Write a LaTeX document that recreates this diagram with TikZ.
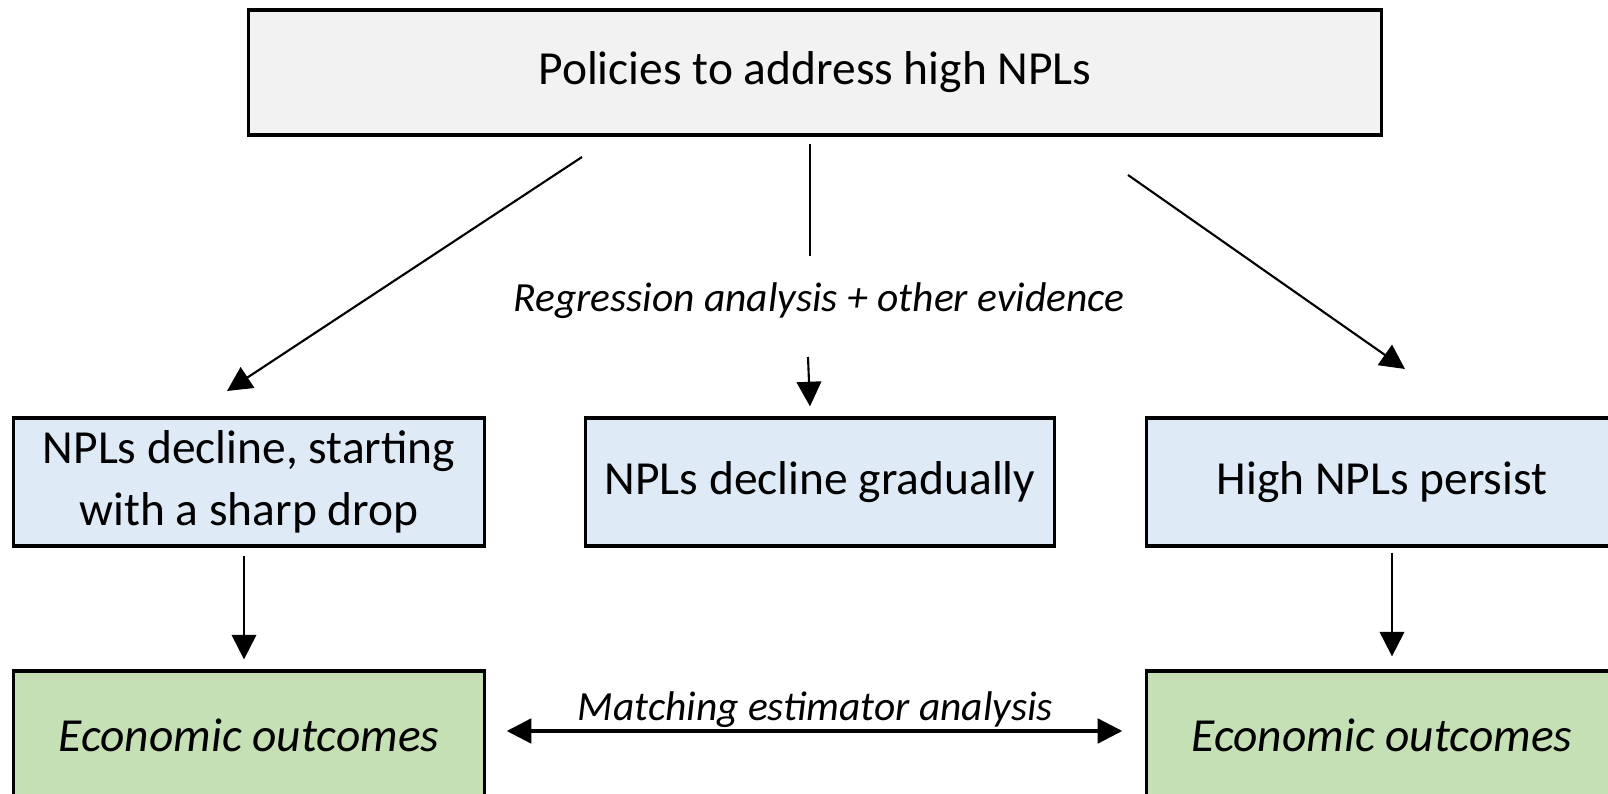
\documentclass[tikz,border=0pt]{standalone}
\usepackage{fontspec}
\setmainfont{Carlito}
\usepackage{xcolor}
\usepackage{tikz}
\usetikzlibrary{arrows.meta}

\definecolor{topgray}{HTML}{F2F2F2}
\definecolor{npllight}{HTML}{DEEBF7}
\definecolor{outgreen}{HTML}{C5E0B4}

\tikzset{
  box/.style={draw=black, line width=0.9pt, align=center, inner sep=0pt,
    font=\fontsize{13.5}{17.5}\selectfont},
  arr/.style={line width=0.6pt, -{Triangle[length=7pt,width=7pt]}},
  dblarr/.style={line width=0.9pt, {Triangle[length=7pt,width=7pt]}-{Triangle[length=7pt,width=7pt]}},
  lbl/.style={font=\fontsize{11.8}{14}\selectfont\itshape, inner sep=0pt}
}

\begin{document}
\begin{tikzpicture}[x=0.01cm, y=-0.01cm]
\clip (0,0) rectangle (1608,794);

\node[box, fill=topgray, minimum width=11.32cm, minimum height=1.25cm] (policy) at (815,72.5) {Policies to address high NPLs};

\node[box, fill=npllight, minimum width=4.70cm, minimum height=1.28cm] (sharp) at (249,482) {NPLs decline, starting\\with a sharp drop};
\node[box, fill=npllight, minimum width=4.68cm, minimum height=1.28cm] (gradual) at (820,482) {NPLs decline gradually};
\node[box, fill=npllight, minimum width=4.70cm, minimum height=1.28cm] (persist) at (1382,482) {High NPLs persist};

\node[box, fill=outgreen, minimum width=4.70cm, minimum height=1.28cm, font=\fontsize{13.5}{17.5}\selectfont\itshape] (outsharp) at (249,735) {Economic outcomes};
\node[box, fill=outgreen, minimum width=4.70cm, minimum height=1.28cm, font=\fontsize{13.5}{17.5}\selectfont\itshape] (outpersist) at (1382,735) {Economic outcomes};

\node[lbl] (regress) at (819,301) {Regression analysis + other evidence};

\coordinate (lstart) at (582,157);
\coordinate (lend) at (227,391);
\coordinate (rstart) at (1128,175);
\coordinate (rend) at (1405,369);
\coordinate (mtop) at (810,144);
\coordinate (mmid) at (810,256);
\coordinate (mlow) at (808,357);

\draw[arr] (lstart) -- (lend);
\draw[arr] (rstart) -- (rend);
\draw[line width=0.6pt] (mtop) -- (mmid);
\draw[arr] (mlow) -- ([xshift=-0.1cm,yshift=0.1cm]gradual.north);

\draw[arr, shorten <=0.08cm, shorten >=0.1cm] ([xshift=-0.05cm]sharp.south) -- ([xshift=-0.05cm]outsharp.north);
\draw[arr, shorten <=0.05cm, shorten >=0.13cm] ([xshift=0.1cm]persist.south) -- ([xshift=0.1cm]outpersist.north);

\draw[dblarr, shorten <=0.21cm, shorten >=0.23cm] ([yshift=0.04cm]outsharp.east) -- ([yshift=0.04cm]outpersist.west)
  node[lbl, midway, above=0.02cm] (match) {Matching estimator analysis};
\end{tikzpicture}
\end{document}
